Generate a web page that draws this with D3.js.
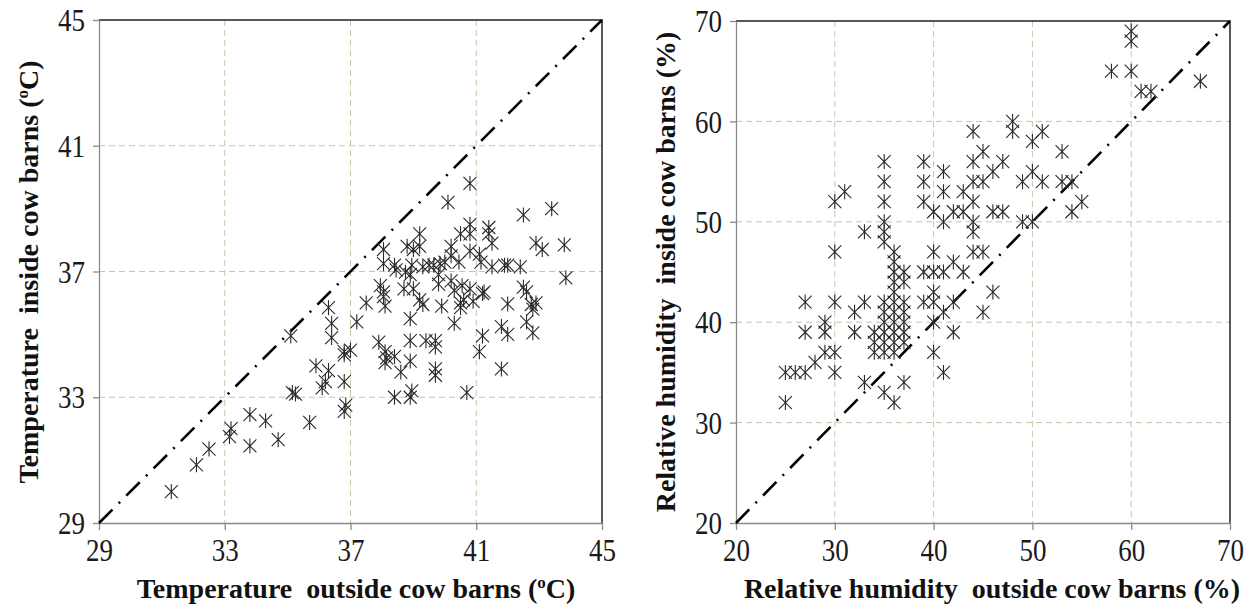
<!DOCTYPE html>
<html><head><meta charset="utf-8">
<script src="https://cdn.jsdelivr.net/npm/d3@7"></script>
<style>
body{margin:0;background:#fff}
svg text{font-family:"Liberation Serif","Times New Roman",serif}
.ttl{font-size:28px;font-weight:bold;fill:#111;white-space:pre}
</style>
</head><body><svg id="c" width="1254" height="613"></svg>
<script>
// ---- data ----
const tempTicks = [29, 33, 37, 41, 45];
const rhTicks = [20, 30, 40, 50, 60, 70];

const tempPairs = [
[31.3,30.0],[32.1,30.85],[32.5,31.35],[33.2,32.0],[33.15,31.75],[33.8,32.45],[33.8,31.45],[34.3,32.25],[34.7,31.65],[35.7,32.2],
[35.15,33.15],[35.25,33.1],[35.9,34.0],[36.3,33.85],[36.2,33.5],[36.1,33.3],[36.8,33.5],[36.8,34.35],[36.8,32.55],[36.85,32.75],
[35.1,34.95],[36.3,35.85],[36.4,35.35],[36.4,34.9],
[40.8,39.8],[40.1,39.2],[42.5,38.8],[43.4,39.0],[40.8,38.5],[41.4,38.4],[40.5,38.2],[40.8,38.2],[41.4,38.2],[39.2,38.2],
[38.8,37.8],[39.0,37.7],[39.2,37.8],[38.05,37.7],[40.2,37.8],[41.5,37.9],[42.9,37.9],[43.1,37.7],[43.8,37.85],[43.85,36.8],
[40.8,37.65],[41.1,37.55],[40.2,37.5],[40.0,37.3],[39.85,37.25],[39.5,37.2],[39.65,37.2],[39.3,37.15],[40.45,37.3],[38.05,37.25],
[38.4,37.2],[38.45,37.05],[38.75,36.98],[38.9,36.9],[38.95,37.2],[41.15,37.3],[41.5,37.15],[41.9,37.2],[42.0,37.2],[42.4,37.15],
[39.8,36.9],[39.8,36.6],[40.2,36.7],[40.55,36.55],[37.95,36.55],[38.05,36.35],[38.05,36.2],[38.7,36.45],[39.0,36.45],[40.8,36.45],
[41.25,36.35],[42.5,36.5],[42.6,36.35],[39.2,36.1],[39.3,35.95],[39.9,35.9],[40.5,36.0],[42.0,35.97],[42.9,36.0],
[37.5,36.0],[38.1,35.9],[40.5,35.85],[40.3,36.4],[40.6,36.1],[41.2,36.3],[40.9,36.05],[42.75,35.95],[42.8,35.8],
[38.9,35.5],[40.3,35.35],[37.2,35.4],[41.8,35.25],[42.0,35.0],[42.8,35.05],[42.6,35.4],[41.2,34.95],[41.1,34.45],[41.8,33.9],
[37.9,34.75],[38.1,34.45],[38.15,34.25],[38.1,34.1],[38.4,34.3],[38.9,34.8],[39.4,34.8],[39.7,34.8],[39.7,34.6],[38.9,34.15],
[38.6,33.8],[39.7,33.9],[39.7,33.7],[36.8,34.45],[37.0,34.5],[38.4,33.0],[38.9,33.0],[38.95,33.2],[40.7,33.15]
];
const tempOutside = tempPairs.map(d => d[0]);
const tempInside = tempPairs.map(d => d[1]);

const rhPairs = [
[25,35],[25,32],[26,35],[27,35],[27,42],[27,39],[28,36],[29,40],[29,39],[29,37],[30,52],[30,47],[30,42],[30,37],[30,35],
[31,53],[32,41],[32,39],[33,49],[33,42],[33,34],[34,39],[34,38],[34,37],[35,56],[35,54],[35,52],[35,50],[35,49],[35,48],
[35,42],[35,41],[35,40],[35,39],[35,38],[35,37],[35,33],[36,47],[36,46],[36,45],[36,44],[36,43],[36,42],[36,41],[36,40],
[36,39],[36,38],[36,37],[36,32],[37,45],[37,44],[37,42],[37,41],[37,40],[37,39],[37,38],[37,34],[39,56],[39,54],[39,52],
[39,45],[39,42],[40,51],[40,47],[40,45],[40,43],[40,42],[40,40],[40,37],[41,55],[41,53],[41,50],[41,45],[41,41],[41,35],
[42,51],[42,46],[42,42],[42,39],[43,53],[43,51],[43,45],[44,59],[44,56],[44,54],[44,52],[44,50],[44,49],[44,47],[45,57],
[45,54],[45,47],[45,41],[46,55],[46,51],[46,43],[47,56],[47,51],[48,60],[48,59],[49,54],[49,50],[50,58],[50,55],[50,50],
[51,59],[51,54],[53,57],[53,54],[54,54],[54,51],[55,52],[58,65],[60,69],[60,68],[60,65],[61,63],[62,63],[67,64]
];
const rhOutside = rhPairs.map(d => d[0]);
const rhInside = rhPairs.map(d => d[1]);

// ---- drawing ----
const svg = d3.select("#c");
const SERIF = "'Liberation Serif','Times New Roman',serif";
const starPath = "M0,-7.5V7.5M-6.5,-6.5L6.5,6.5M-6.5,6.5L6.5,-6.5";

function panel(o) {
  const x = d3.scaleLinear().domain(o.domain).range([o.x0, o.x1]);
  const y = d3.scaleLinear().domain(o.domain).range([o.y1, o.y0]);
  const g = svg.append("g");

  g.append("g").selectAll("line").data(o.ticks.slice(1, -1)).join("line")
    .attr("x1", d => x(d)).attr("x2", d => x(d)).attr("y1", o.y0).attr("y2", o.y1)
    .attr("stroke", "#c9c3a8").attr("stroke-width", 1).attr("stroke-dasharray", "6,4");
  g.append("g").selectAll("line").data(o.ticks.slice(1, -1)).join("line")
    .attr("y1", d => y(d)).attr("y2", d => y(d)).attr("x1", o.x0).attr("x2", o.x1)
    .attr("stroke", "#c9c3a8").attr("stroke-width", 1).attr("stroke-dasharray", "6,4");

  g.append("path").attr("d", `M${o.x0},${o.y0}H${o.x1}V${o.y1}`)
    .attr("fill", "none").attr("stroke", "#222").attr("stroke-width", 1.5);

  const xa = g.append("g").attr("transform", `translate(0,${o.y1})`)
    .call(d3.axisBottom(x).tickValues(o.ticks).tickSize(7).tickSizeOuter(0));
  const ya = g.append("g").attr("transform", `translate(${o.x0},0)`)
    .call(d3.axisLeft(y).tickValues(o.ticks).tickSize(6).tickSizeOuter(0));
  [xa, ya].forEach(a => {
    a.attr("font-family", SERIF).attr("font-size", 27);
    a.select(".domain").attr("stroke", "#8a8a8a").attr("stroke-width", 1.3);
    a.selectAll(".tick line").attr("stroke", "#8a8a8a").attr("stroke-width", 1.3);
    a.selectAll(".tick text").style("font-family", SERIF).style("font-size", "27px").attr("fill", "#1a1a1a");
  });
  xa.selectAll(".tick text")
    .attr("x", null).attr("y", null).attr("dy", null)
    .attr("dominant-baseline", "central")
    .attr("transform", `translate(0,${o.xLabY - o.y1}) scale(1,1.15)`);
  ya.selectAll(".tick text")
    .attr("x", null).attr("y", null).attr("dy", null)
    .attr("dominant-baseline", "central")
    .attr("transform", `translate(${-o.yLabGap},0) scale(1,1.15)`);

  g.append("line")
    .attr("x1", x(o.domain[0])).attr("y1", y(o.domain[0]))
    .attr("x2", x(o.domain[1])).attr("y2", y(o.domain[1]))
    .attr("stroke", "#000").attr("stroke-width", 2.6).attr("stroke-dasharray", "19,8.8,2,8.8");

  g.append("g").selectAll("path").data(o.xs.map((v, i) => [v, o.ys[i]])).join("path")
    .attr("transform", d => `translate(${x(d[0])},${y(d[1])})`)
    .attr("d", starPath).attr("fill", "none").attr("stroke", "#2a2a2a").attr("stroke-width", 1.1);

  const xt = svg.append("text").attr("class", "ttl").attr("x", o.xtX).attr("y", 598)
    .attr("text-anchor", "middle").style("font-family", SERIF);
  o.xTitle(xt);
  const yt = svg.append("text").attr("class", "ttl").attr("transform", `translate(${o.ytX},${o.ytY}) rotate(-90)`)
    .attr("text-anchor", "middle").attr("dy", "0.3em").style("font-family", SERIF);
  o.yTitle(yt);
}

function degTitle(pre) {
  return t => {
    t.append("tspan").text(pre + " (");
    t.append("tspan").text("o").style("font-size", "17px").attr("dy", "-10");
    t.append("tspan").text("C)").attr("dy", "10");
  };
}

panel({
  domain: [29, 45], ticks: tempTicks, x0: 99, x1: 602, y0: 20, y1: 523,
  xs: tempOutside, ys: tempInside, xLabY: 550, yLabGap: 14,
  xtX: 356, ytX: 30, ytY: 272,
  xTitle: degTitle("Temperature  outside cow barns"),
  yTitle: degTitle("Temperature  inside cow barns")
});
panel({
  domain: [20, 70], ticks: rhTicks, x0: 736, x1: 1230, y0: 21, y1: 523,
  xs: rhOutside, ys: rhInside, xLabY: 550, yLabGap: 14,
  xtX: 992, ytX: 667, ytY: 272,
  xTitle: t => t.text("Relative humidity  outside cow barns (%)"),
  yTitle: t => t.text("Relative humidity  inside cow barns (%)")
});
</script></body></html>
